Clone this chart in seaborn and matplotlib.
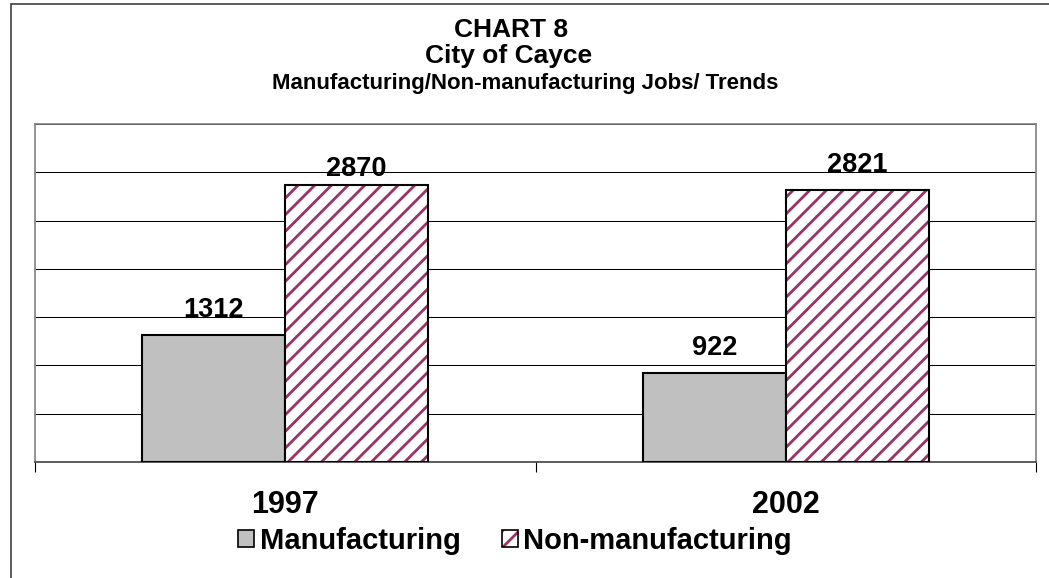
import matplotlib
matplotlib.use("Agg")
import matplotlib.pyplot as plt
import seaborn as sns
import pandas as pd
from matplotlib.patches import Rectangle
from matplotlib.ticker import MultipleLocator, FixedLocator

# ---- data ----
years = ["1997", "2002"]
series = ["Manufacturing", "Non-manufacturing"]
manufacturing = [1312, 922]
non_manufacturing = [2870, 2821]

title1 = "CHART 8"
title2 = "City of Cayce"
title3 = "Manufacturing/Non-manufacturing Jobs/ Trends"

df = pd.DataFrame({
    "Year": years * 2,
    "Series": [series[0]] * len(years) + [series[1]] * len(years),
    "Jobs": manufacturing + non_manufacturing,
})

sns.set_style("white")
plt.rcParams["font.family"] = ["Liberation Sans", "DejaVu Sans"]
plt.rcParams["font.weight"] = "bold"
plt.rcParams["text.color"] = "black"
plt.rcParams["xtick.color"] = "black"
plt.rcParams["xtick.labelcolor"] = "black"
plt.rcParams["hatch.linewidth"] = 2.0

HATCH_COLOR = "#993366"

W, H = 1049, 578
fig = plt.figure(figsize=(W / 100, H / 100), dpi=100)
ax = fig.add_axes([35 / W, 1 - 462 / H, (1036 - 35) / W, (462 - 124) / H])

sns.barplot(data=df, x="Year", y="Jobs", hue="Series", order=years, hue_order=series,
            palette=["#C0C0C0", "#FFFFFF"], width=0.571, saturation=1,
            edgecolor="black", linewidth=1.5, ax=ax, legend=False, zorder=3)

ax.set_xlim(-0.5, 1.5)
ax.set_ylim(0, 3500)
ax.yaxis.set_major_locator(MultipleLocator(500))
ax.set_yticklabels([])
ax.tick_params(axis="y", length=0)
ax.grid(axis="y", color="black", linewidth=0.75, zorder=0)
ax.set_axisbelow(True)
ax.set_xlabel("")
ax.set_ylabel("")

# category boundary ticks
ax.xaxis.set_minor_locator(FixedLocator([-0.5, 0.5, 1.5]))
ax.tick_params(axis="x", which="minor", length=7, width=0.8, color="black", direction="out", bottom=True)
ax.tick_params(axis="x", which="major", length=0, pad=20, labelsize=22, labelcolor="black")
for lbl in ax.get_xticklabels():
    lbl.set_fontweight("bold")

for side in ["left", "top", "right"]:
    ax.spines[side].set_color("#808080")
    ax.spines[side].set_linewidth(1.2)
ax.spines["bottom"].set_color("#404040")
ax.spines["bottom"].set_linewidth(1.2)

containers = ax.containers
# hatch the non-manufacturing bars
for p in containers[1]:
    p.set_hatch("//")
    p.set_edgecolor(HATCH_COLOR)
    p.set_linewidth(0)
    ax.add_patch(Rectangle(p.get_xy(), p.get_width(), p.get_height(), fill=False,
                           edgecolor="black", linewidth=1.5, zorder=4))

# value labels
offsets = [[13.5, 13.0], [6.5, 13.0]]
for ci, cont in enumerate(containers[:2]):
    for bi, p in enumerate(cont):
        ax.annotate(f"{int(p.get_height())}",
                    (p.get_x() + p.get_width() / 2, p.get_height()),
                    xytext=(0, offsets[ci][bi]), textcoords="offset points",
                    ha="center", va="baseline", fontsize=19.5, fontweight="bold",
                    color="black", zorder=5)

# legend
h_manu = Rectangle((0, 0), 1, 1, facecolor="#C0C0C0", edgecolor="black", linewidth=1.2)
h_non = Rectangle((0, 0), 1, 1, facecolor="white", edgecolor="black", linewidth=1.2)
leg = fig.legend([h_manu, h_non], series, loc="center",
                 bbox_to_anchor=(515 / W, 1 - 541 / H),
                 ncol=2, frameon=False, prop={"size": 21, "weight": "bold"},
                 handlelength=0.55, handleheight=0.55, handletextpad=0.2,
                 columnspacing=1.4, borderpad=0)
for t in leg.get_texts():
    t.set_color("black")
# hatched legend key: hatch drawn in magenta inside, black outline on top
fig.canvas.draw()
lh = leg.legend_handles[1]
lh.set_facecolor("white")
lh.set_edgecolor(HATCH_COLOR)
lh.set_hatch("//")
lh.set_linewidth(0)
bb = lh.get_window_extent(fig.canvas.get_renderer())
inv = fig.transFigure.inverted()
(x0, y0), (x1, y1) = inv.transform([[bb.x0, bb.y0], [bb.x1, bb.y1]])
fig.add_artist(Rectangle((x0, y0), x1 - x0, y1 - y0, transform=fig.transFigure,
                         fill=False, edgecolor="black", linewidth=1.2, zorder=10))

# titles
fig.text(511 / W, 1 - 37 / H, title1, ha="center", va="baseline", fontsize=19, fontweight="bold", color="black")
fig.text(509 / W, 1 - 63 / H, title2, ha="center", va="baseline", fontsize=19, fontweight="bold", color="black")
fig.text(525 / W, 1 - 89 / H, title3, ha="center", va="baseline", fontsize=16, fontweight="bold", color="black")

# outer frame (right and bottom edges fall outside the canvas)
fig.add_artist(Rectangle((11 / W, -0.02), 1.0, 1 - 4 / H + 0.02,
                         transform=fig.transFigure, fill=False, edgecolor="#404040",
                         linewidth=1.2))

fig.savefig("out.png", dpi=100)
